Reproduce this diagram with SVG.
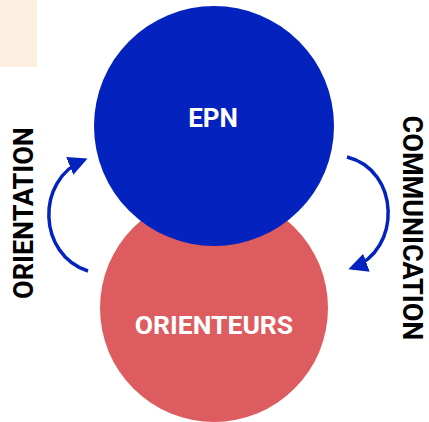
<svg xmlns="http://www.w3.org/2000/svg" width="429" height="422" viewBox="0 0 429 422">
<style>
.lbl{font-family:Roboto,"Liberation Sans",sans-serif;font-weight:bold;fill:#fff;text-anchor:middle}
.side{font-family:Roboto,"Liberation Sans",sans-serif;font-weight:bold;fill:#000;text-anchor:middle;font-size:27px}
.conn{fill:none;stroke:#0322BE;stroke-width:3.5}
</style>
<defs>
<marker id="ah" viewBox="0 0 10 10" refX="8" refY="5" markerWidth="5.5" markerHeight="5.5" orient="auto" markerUnits="strokeWidth">
<path d="M0,0 L10,5 L0,10 Z" fill="#0322BE"/>
</marker>
</defs>
<rect x="0" y="0" width="37" height="67" fill="#FCEFE0"/>
<g id="orienteurs">
<circle cx="214" cy="308" r="114" fill="#DD5C60"/>
<text class="lbl" x="214" y="334" font-size="26.5">ORIENTEURS</text>
</g>
<g id="epn">
<circle cx="214" cy="126" r="120" fill="#0322BE"/>
<text class="lbl" x="213" y="127" font-size="26">EPN</text>
</g>
<g id="connectors">
<path class="conn" d="M88,271 C38,255 35,180 84,160" marker-end="url(#ah)"/>
<path class="conn" d="M347,157 C400,170 402,250 352,268" marker-end="url(#ah)"/>
</g>
<text class="side" transform="translate(33,213) rotate(-90)">ORIENTATION</text>
<text class="side" transform="translate(403,228) rotate(90)">COMMUNICATION</text>
</svg>
